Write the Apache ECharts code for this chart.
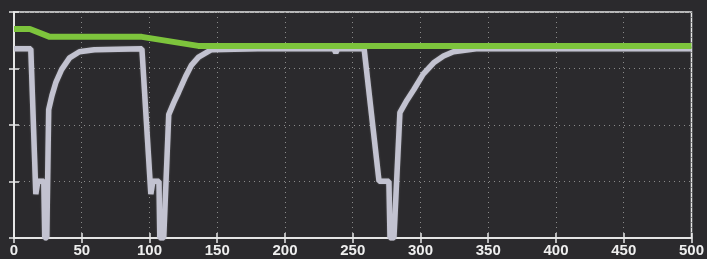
<!DOCTYPE html>
<html>
<head>
<meta charset="UTF-8">
<script src="https://cdn.jsdelivr.net/npm/echarts@6/dist/echarts.min.js"></script>
<style>
  html, body { margin: 0; padding: 0; background: #2b2a2d; }
  #box { width: 707px; height: 259px; }
</style>
</head>
<body>
<div id="box"></div>
<script>
// x positions and values
var greenX = [0, 11.7, 26.4, 94.4, 136, 500];
var greenY = [0.925, 0.925, 0.89, 0.89, 0.85, 0.85];

var grayX = [0, 12.4, 16.1, 17.6, 22, 22.7, 24.2, 25.6, 28, 31, 35.1, 41, 48.3, 59.3,
             94.4, 101, 102.5, 107, 107.6, 110.5, 114.2, 118, 121.5, 126.6, 131, 136.2, 145.7,
             180, 236, 237.5, 239, 258.4, 269.4, 276.7, 277.5, 280.4, 284.8, 290, 295,
             302, 309.7, 317, 324.3, 341, 500];
var grayY = [0.837, 0.837, 0.194, 0.251, 0.251, 0, 0, 0.568, 0.63, 0.69, 0.745, 0.797, 0.824, 0.833,
             0.837, 0.194, 0.251, 0.251, 0, 0, 0.546, 0.60, 0.645, 0.714, 0.765, 0.80, 0.833,
             0.837, 0.837, 0.82, 0.837, 0.837, 0.251, 0.251, 0, 0, 0.555, 0.61, 0.656,
             0.725, 0.775, 0.805, 0.824, 0.837, 0.837];

function pairs(xs, ys) {
    var out = [];
    for (var i = 0; i < xs.length; i++) out.push([xs[i], ys[i]]);
    return out;
}

var chart = echarts.init(document.getElementById('box'));

var dotted = { show: true, lineStyle: { color: '#8a8a8a', type: [1, 4], width: 1 } };
var white = { color: '#e8e8e8', width: 1.5 };

chart.setOption({
    backgroundColor: '#2b2a2d',
    animation: false,
    grid: { left: 14, right: 9, top: 12, bottom: 21, show: true, borderColor: '#e8e8e8', borderWidth: 1.5 },
    xAxis: [{
        type: 'value', min: 0, max: 500, interval: 50, position: 'bottom',
        axisLine: { show: true, lineStyle: white },
        axisTick: { show: true, inside: true, length: 5, lineStyle: white },
        axisLabel: { color: '#eeeeee', fontSize: 15, fontWeight: 'bold', fontFamily: 'Liberation Sans', margin: 5 },
        splitLine: dotted
    }, {
        type: 'value', min: 0, max: 500, interval: 50, position: 'top',
        axisLine: { show: true, lineStyle: white },
        axisTick: { show: true, inside: true, length: 5, lineStyle: white },
        axisLabel: { show: false }, splitLine: { show: false }
    }],
    yAxis: [{
        type: 'value', min: 0, max: 1, interval: 0.25, position: 'left',
        axisLine: { show: true, lineStyle: white },
        axisTick: { show: true, inside: true, length: 5, lineStyle: white },
        axisLabel: { show: false },
        splitLine: dotted
    }, {
        type: 'value', min: 0, max: 1, interval: 0.25, position: 'right',
        axisLine: { show: true, lineStyle: white },
        axisTick: { show: true, inside: true, length: 5, lineStyle: white },
        axisLabel: { show: false }, splitLine: { show: false }
    }],
    series: [{
        type: 'line', name: 'gray', data: pairs(grayX, grayY), showSymbol: false,
        lineStyle: { color: '#c2c2d0', width: 5.5, shadowColor: 'rgba(255,255,255,0.25)', shadowBlur: 2 },
        z: 3
    }, {
        type: 'line', name: 'green', data: pairs(greenX, greenY), showSymbol: false,
        lineStyle: { color: '#7dc43c', width: 6 },
        z: 4
    }]
});
</script>
</body>
</html>
